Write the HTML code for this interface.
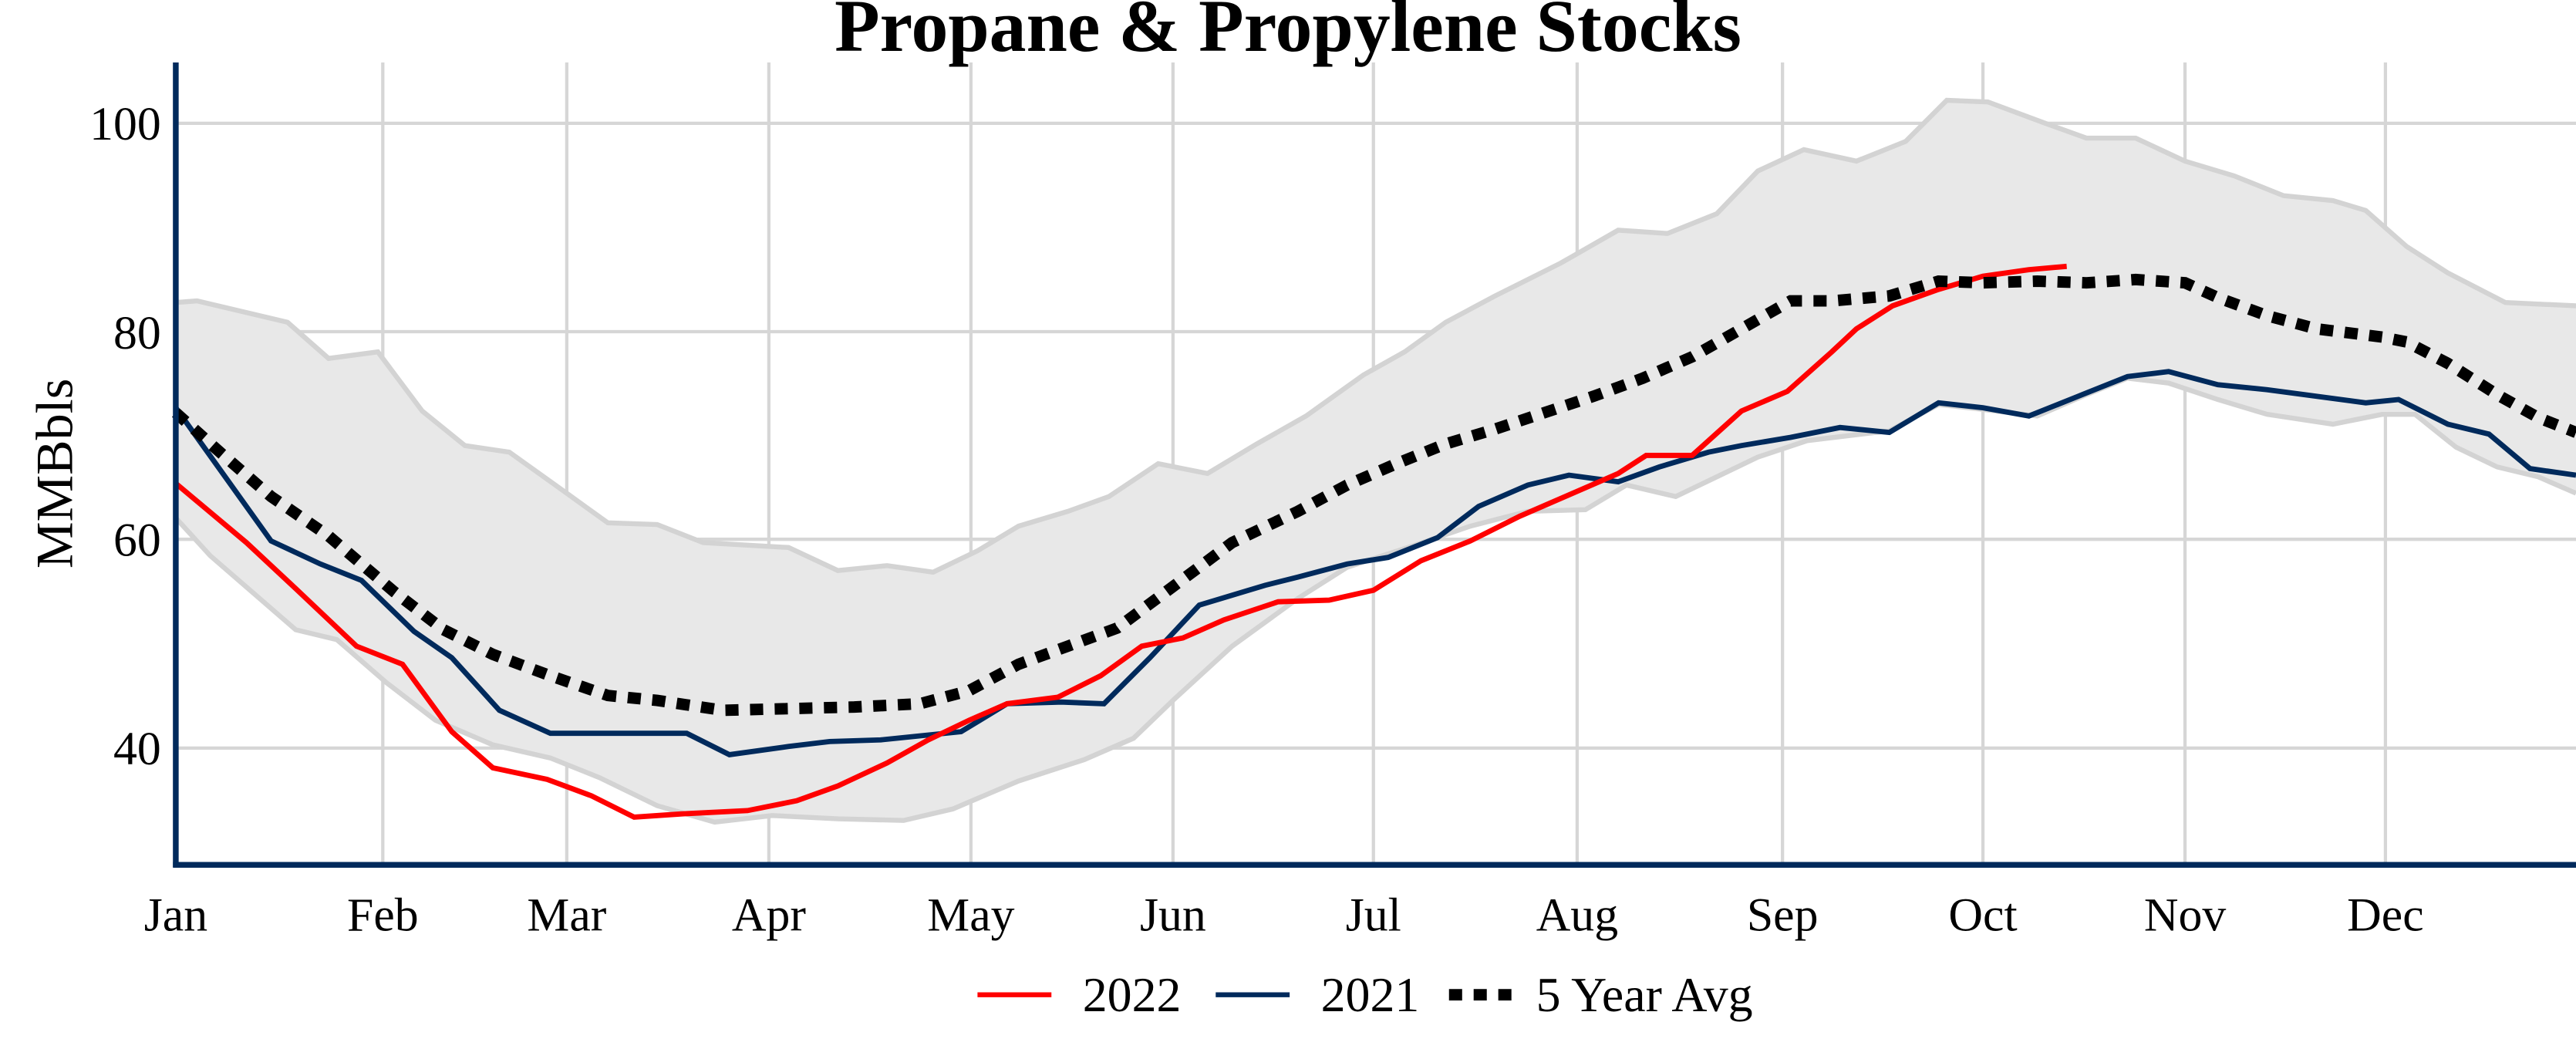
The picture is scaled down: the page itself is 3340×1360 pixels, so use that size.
<!DOCTYPE html>
<html><head><meta charset="utf-8"><style>html,body{margin:0;padding:0;background:#fff}svg{display:block}text{font-family:"Liberation Serif",serif;fill:#000}</style></head><body>
<svg width="3340" height="1360" viewBox="0 0 1568 638" preserveAspectRatio="none" xmlns="http://www.w3.org/2000/svg">
<text x="784" y="31" font-size="45" font-weight="bold" text-anchor="middle">Propane &amp; Propylene Stocks</text>
<g stroke="#d6d6d6" stroke-width="2">
<line x1="107" y1="75" x2="1568" y2="75"/><line x1="107" y1="201.7" x2="1568" y2="201.7"/><line x1="107" y1="328" x2="1568" y2="328"/><line x1="107" y1="455" x2="1568" y2="455"/>
<line x1="233" y1="38" x2="233" y2="526"/><line x1="345" y1="38" x2="345" y2="526"/><line x1="468" y1="38" x2="468" y2="526"/><line x1="591" y1="38" x2="591" y2="526"/><line x1="714" y1="38" x2="714" y2="526"/><line x1="836" y1="38" x2="836" y2="526"/><line x1="960" y1="38" x2="960" y2="526"/><line x1="1085" y1="38" x2="1085" y2="526"/><line x1="1207" y1="38" x2="1207" y2="526"/><line x1="1330" y1="38" x2="1330" y2="526"/><line x1="1452" y1="38" x2="1452" y2="526"/>
</g>
<polygon fill="#e8e8e8" points="107,184 120,183 175,196 200,218 230,214 257,250 283,271 310,275 345,300 370,318 400,319 428,330 480,333 510,347 540,344 568,348 595,335 620,320 650,311 675,302 705,282 735,288 765,270 795,253 830,228 855,214 880,196 910,180 950,160 985,140 1015,142 1045,130 1070,104 1098,91 1130,98 1160,86 1185,61 1210,62 1245,75 1270,84 1300,84 1330,98 1360,107 1390,119 1420,122 1440,128 1465,150 1490,166 1525,184 1568,186 1568,300 1545,290 1520,284 1495,272 1470,252 1450,252 1420,258 1380,252 1350,243 1320,233 1295,230 1270,240 1240,253 1207,249 1180,246 1150,262 1100,268 1070,278 1045,290 1020,302 990,295 965,310 930,311 895,320 860,332 820,345 790,364 750,393 715,425 690,449 660,462 620,475 580,492 550,499 510,498 470,496 435,500 400,490 365,473 335,461 300,453 265,438 235,415 205,389 180,383 128,338 107,315"/>
<g fill="none" stroke="#d3d3d3" stroke-width="3">
<polyline points="107,184 120,183 175,196 200,218 230,214 257,250 283,271 310,275 345,300 370,318 400,319 428,330 480,333 510,347 540,344 568,348 595,335 620,320 650,311 675,302 705,282 735,288 765,270 795,253 830,228 855,214 880,196 910,180 950,160 985,140 1015,142 1045,130 1070,104 1098,91 1130,98 1160,86 1185,61 1210,62 1245,75 1270,84 1300,84 1330,98 1360,107 1390,119 1420,122 1440,128 1465,150 1490,166 1525,184 1568,186"/>
<polyline points="107,315 128,338 180,383 205,389 235,415 265,438 300,453 335,461 365,473 400,490 435,500 470,496 510,498 550,499 580,492 620,475 660,462 690,449 715,425 750,393 790,364 820,345 860,332 895,320 930,311 965,310 990,295 1020,302 1045,290 1070,278 1100,268 1150,262 1180,246 1207,249 1240,253 1270,240 1295,230 1320,233 1350,243 1380,252 1420,258 1450,252 1470,252 1495,272 1520,284 1545,290 1568,300"/>
</g>
<polyline fill="none" stroke="#002a5c" stroke-width="3.2" points="107,248 165,329 195,343 220,353 252,384 275,400 304,432 335,446 418,446 444,459 480,454 505,451 536,450 585,445 613,428 646,427 672,428 700,400 730,368 770,356 790,351 820,343 845,339 875,327 900,308 930,295 955,289 985,293 1010,284 1040,275 1060,271 1090,266 1120,260 1150,263 1180,245 1207,248 1235,253 1265,241 1295,229 1320,226 1350,234 1380,237 1410,241 1440,245 1460,243 1490,258 1515,264 1540,285 1568,289"/>
<polyline fill="none" stroke="#ff0000" stroke-width="3.2" points="107,294 150,330 180,358 217,393 245,404 275,445 300,467 333,474 360,484 386,497 415,495 455,493 485,487 510,478 540,464 565,450 590,438 613,428 644,424 670,411 695,393 720,388 745,377 778,366 809,365 836,359 865,341 895,329 925,314 955,301 985,288 1002,277 1030,277 1060,250 1088,238 1115,214 1130,200 1152,186 1180,176 1207,168 1235,164 1258,162"/>
<polyline fill="none" stroke="#000" stroke-width="7" stroke-dasharray="8,7" points="107,251 135,276 165,302 200,326 240,360 270,383 300,398 335,411 370,423 400,426 440,432 480,431 520,430 560,428 590,420 620,404 650,393 680,382 715,356 750,330 790,311 820,295 850,282 880,270 910,261 940,251 970,241 1000,230 1030,217 1060,200 1090,183 1115,183 1150,180 1180,171 1207,172 1240,171 1270,172 1300,170 1330,172 1350,181 1380,192 1410,200 1450,205 1465,208 1490,221 1520,240 1545,254 1568,263"/>
<g stroke="#002a5c" stroke-width="3.5" fill="none"><line x1="107" y1="38" x2="107" y2="527.5"/><line x1="105.3" y1="526" x2="1568" y2="526"/></g>
<g font-size="29" text-anchor="end"><text x="98" y="85">100</text><text x="98" y="212">80</text><text x="98" y="338">60</text><text x="98" y="465">40</text></g>
<g font-size="29" text-anchor="middle"><text x="107" y="566">Jan</text><text x="233" y="566">Feb</text><text x="345" y="566">Mar</text><text x="468" y="566">Apr</text><text x="591" y="566">May</text><text x="714" y="566">Jun</text><text x="836" y="566">Jul</text><text x="960" y="566">Aug</text><text x="1085" y="566">Sep</text><text x="1207" y="566">Oct</text><text x="1330" y="566">Nov</text><text x="1452" y="566">Dec</text></g>
<text x="0" y="0" font-size="32" text-anchor="middle" transform="translate(44,288) rotate(-90)">MMBbls</text>
<line x1="595" y1="605" x2="640" y2="605" stroke="#ff0000" stroke-width="3"/><text x="659" y="615" font-size="30">2022</text>
<line x1="740" y1="605" x2="785" y2="605" stroke="#002a5c" stroke-width="3"/><text x="804" y="615" font-size="30">2021</text>
<line x1="882" y1="605" x2="927" y2="605" stroke="#000" stroke-width="7" stroke-dasharray="8,7"/><text x="935" y="615" font-size="30">5 Year Avg</text>
</svg>
</body></html>
